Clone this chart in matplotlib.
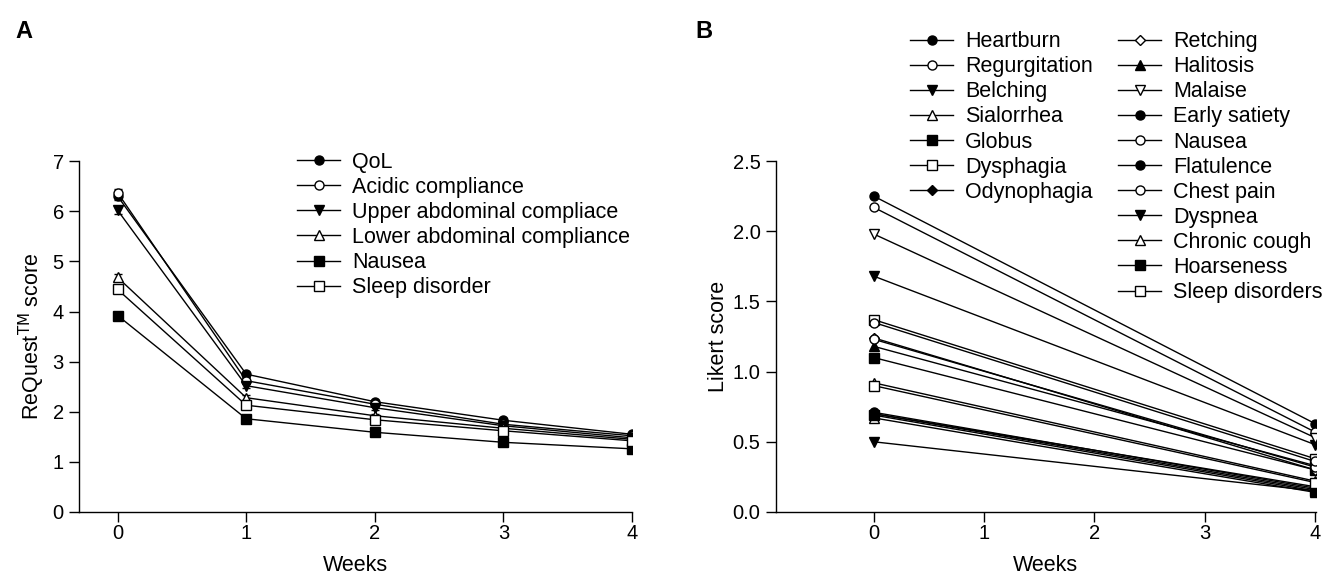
import matplotlib

matplotlib.use("Agg")
import matplotlib.pyplot as plt

# ---- data ----
weeks_a = [0, 1, 2, 3, 4]
series_a = [
    "QoL", "Acidic compliance", "Upper abdominal compliace",
    "Lower abdominal compliance", "Nausea", "Sleep disorder",
]
qol = [6.30, 2.75, 2.20, 1.83, 1.55]
acidic = [6.37, 2.62, 2.15, 1.75, 1.52]
upper = [6.02, 2.52, 2.08, 1.72, 1.48]
lower = [4.68, 2.28, 1.92, 1.67, 1.45]
nausea_a = [3.92, 1.86, 1.59, 1.39, 1.26]
sleep_a = [4.44, 2.13, 1.84, 1.62, 1.42]
err_a = [0.07, 0.05, 0.04, 0.04, 0.03]

weeks_b = [0, 4]
legend_left = ["Heartburn", "Regurgitation", "Belching", "Sialorrhea",
               "Globus", "Dysphagia", "Odynophagia"]
legend_right = ["Retching", "Halitosis", "Malaise", "Early satiety", "Nausea",
                "Flatulence", "Chest pain", "Dyspnea", "Chronic cough",
                "Hoarseness", "Sleep disorders"]
likert = {
    "Heartburn": [2.25, 0.63],
    "Regurgitation": [2.17, 0.57],
    "Belching": [1.68, 0.48],
    "Sialorrhea": [0.92, 0.22],
    "Globus": [1.10, 0.30],
    "Dysphagia": [1.37, 0.38],
    "Odynophagia": [0.70, 0.16],
    "Retching": [1.24, 0.30],
    "Halitosis": [1.18, 0.33],
    "Malaise": [1.98, 0.53],
    "Early satiety": [0.71, 0.17],
    "Nausea": [1.23, 0.32],
    "Flatulence": [0.70, 0.18],
    "Chest pain": [1.35, 0.36],
    "Dyspnea": [0.50, 0.15],
    "Chronic cough": [0.67, 0.14],
    "Hoarseness": [0.69, 0.15],
    "Sleep disorders": [0.90, 0.21],
}

# marker, filled
style_a = [("o", True), ("o", False), ("v", True), ("^", False), ("s", True), ("s", False)]
style_b = {
    "Heartburn": ("o", True), "Regurgitation": ("o", False), "Belching": ("v", True),
    "Sialorrhea": ("^", False), "Globus": ("s", True), "Dysphagia": ("s", False),
    "Odynophagia": ("D", True), "Retching": ("D", False), "Halitosis": ("^", True),
    "Malaise": ("v", False), "Early satiety": ("o", True), "Nausea": ("o", False),
    "Flatulence": ("o", True), "Chest pain": ("o", False), "Dyspnea": ("v", True),
    "Chronic cough": ("^", False), "Hoarseness": ("s", True), "Sleep disorders": ("s", False),
}

plt.rcParams["font.family"] = ["Liberation Sans", "DejaVu Sans"]
FS = 15.5


def mk(marker, filled):
    ms = 5.5 if marker == "D" else 6.5
    return dict(marker=marker, markersize=ms, markeredgecolor="black", markeredgewidth=1.0,
                markerfacecolor="black" if filled else "white", color="black", linewidth=1.0)


def style_axis(ax):
    ax.spines["top"].set_visible(False)
    ax.spines["right"].set_visible(False)
    ax.tick_params(direction="out", length=7, width=1, labelsize=14.5)
    ax.tick_params(axis="x", pad=2)
    ax.tick_params(axis="y", pad=4)
    for s in ("left", "bottom"):
        ax.spines[s].set_linewidth(1)


def make_legend(ax, hs, labels, x, y):
    return ax.legend(hs, labels, loc="upper left", bbox_to_anchor=(x, y),
                     bbox_transform=fig.transFigure, frameon=False,
                     handlelength=2.0, handletextpad=0.55, labelspacing=0.19,
                     borderpad=0, borderaxespad=0, fontsize=FS)


fig = plt.figure(figsize=(13.24, 5.77), dpi=100)
ax_a = fig.add_axes([0.0597, 0.1127, 0.4176, 0.608])
ax_b = fig.add_axes([0.586, 0.1127, 0.408, 0.608])

# ---- panel A ----
values_a = [qol, acidic, upper, lower, nausea_a, sleep_a]
handles_a = []
for name, vals, (m, f) in zip(series_a, values_a, style_a):
    ax_a.errorbar(weeks_a, vals, yerr=err_a, fmt="none", capsize=3, ecolor="black", elinewidth=1)
    (ln,) = ax_a.plot(weeks_a, vals, label=name, **mk(m, f))
    handles_a.append(ln)
ax_a.set_xlim(-0.30, 4.0)
ax_a.set_ylim(0, 7)
ax_a.set_xticks(weeks_a)
ax_a.set_yticks(range(0, 8))
ax_a.set_xlabel("Weeks", fontsize=FS, labelpad=8)
ax_a.set_ylabel("ReQuest$^{\\mathrm{TM}}$ score", fontsize=FS, labelpad=4)
style_axis(ax_a)
make_legend(ax_a, handles_a, series_a, 0.2243, 0.737)

# ---- panel B ----
handles = {}
for name, vals in likert.items():
    m, f = style_b[name]
    (ln,) = ax_b.plot(weeks_b, vals, label=name, **mk(m, f))
    handles[name] = ln
ax_b.set_xlim(-0.89, 4.01)
ax_b.set_ylim(0, 2.5)
ax_b.set_xticks([0, 1, 2, 3, 4])
ax_b.set_yticks([0.0, 0.5, 1.0, 1.5, 2.0, 2.5])
ax_b.set_yticklabels(["0.0", "0.5", "1.0", "1.5", "2.0", "2.5"])
ax_b.set_xlabel("Weeks", fontsize=FS, labelpad=8)
ax_b.set_ylabel("Likert score", fontsize=FS, labelpad=3)
style_axis(ax_b)
leg1 = make_legend(ax_b, [handles[n] for n in legend_left], legend_left, 0.6873, 0.946)
ax_b.add_artist(leg1)
make_legend(ax_b, [handles[n] for n in legend_right], legend_right, 0.8444, 0.946)

fig.text(0.012, 0.935, "A", fontsize=17, fontweight="bold")
fig.text(0.525, 0.935, "B", fontsize=17, fontweight="bold")

fig.savefig("out.png", dpi=100)
